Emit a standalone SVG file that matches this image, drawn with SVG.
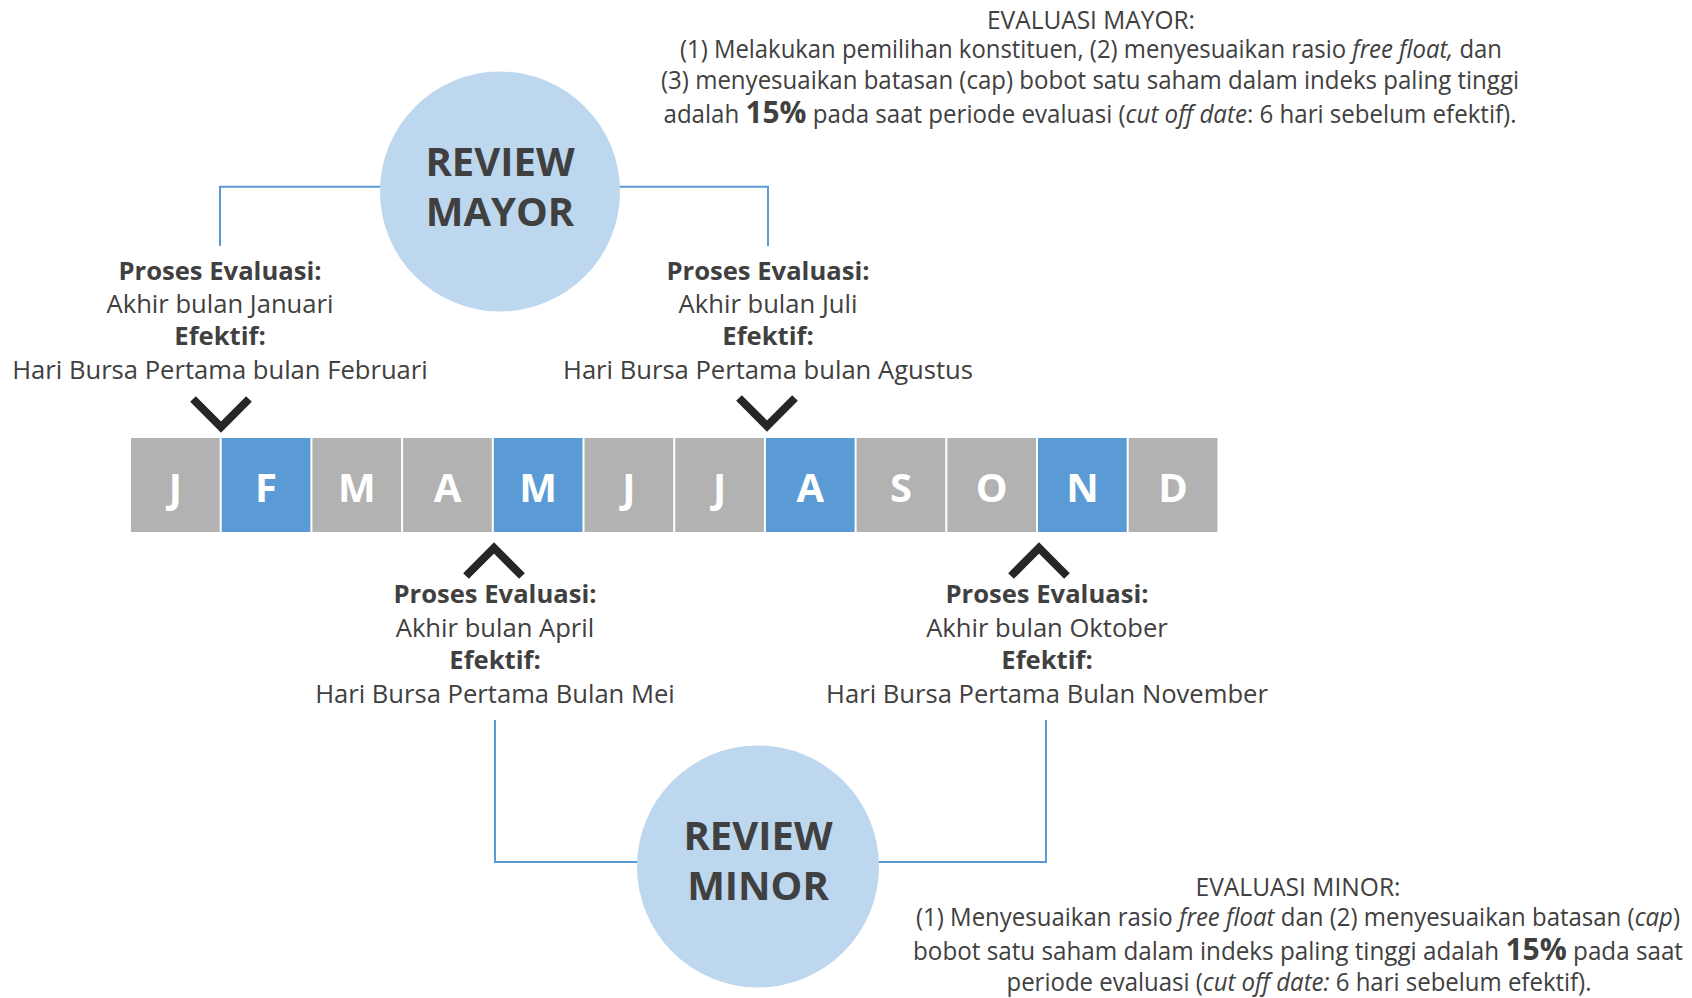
<svg xmlns="http://www.w3.org/2000/svg" width="1692" height="998" viewBox="0 0 1692 998">
<style>
.bg{fill:#ffffff}
.circ{fill:#BDD7EE}
.big{font-family:"Open Sans","Liberation Sans",sans-serif;font-weight:bold;font-size:40px;fill:#404040;text-anchor:middle}
.lbl{font-family:"Open Sans","Liberation Sans",sans-serif;font-size:25.6px;fill:#404040;text-anchor:middle}
.lblb{font-family:"Open Sans","Liberation Sans",sans-serif;font-size:25.6px;font-weight:bold;fill:#404040;text-anchor:middle}
.note{font-family:"Open Sans","Liberation Sans",sans-serif;font-size:25px;fill:#404040;text-anchor:middle}
.it{font-style:italic}
.pct{font-weight:bold;font-size:31px}
.gray{fill:#B2B2B2}
.blue{fill:#5B9BD5}
.mon{font-family:"Open Sans","Liberation Sans",sans-serif;font-weight:bold;font-size:40px;fill:#ffffff;text-anchor:middle}
.conn{fill:none;stroke:#5B9BD5;stroke-width:2}
.chev{fill:none;stroke:#262626;stroke-width:8;stroke-linejoin:miter;stroke-linecap:butt}
</style>
<rect class="bg" x="0" y="0" width="1692" height="998"/>

<g id="connectors">
  <polyline class="conn" points="382,186.7 220,186.7 220,246"/>
  <polyline class="conn" points="618,186.7 768,186.7 768,246"/>
  <polyline class="conn" points="495,720 495,862 640,862"/>
  <polyline class="conn" points="876,862 1046,862 1046,720"/>
</g>

<g id="review-mayor">
  <circle class="circ" cx="500" cy="191.5" r="120"/>
  <text class="big" x="500" y="176">REVIEW</text>
  <text class="big" x="500" y="226">MAYOR</text>
</g>

<g id="review-minor">
  <circle class="circ" cx="758" cy="866.5" r="121"/>
  <text class="big" x="758" y="850">REVIEW</text>
  <text class="big" x="758" y="900">MINOR</text>
</g>

<g id="evaluasi-mayor">
  <text class="note" x="1091" y="29" textLength="208" lengthAdjust="spacingAndGlyphs">EVALUASI MAYOR:</text>
  <text class="note" x="1091" y="58" textLength="822" lengthAdjust="spacingAndGlyphs">(1) Melakukan pemilihan konstituen, (2) menyesuaikan rasio <tspan class="it">free float,</tspan> dan</text>
  <text class="note" x="1090" y="88.5" textLength="858" lengthAdjust="spacingAndGlyphs">(3) menyesuaikan batasan (cap) bobot satu saham dalam indeks paling tinggi</text>
  <text class="note" x="1090" y="123" textLength="853" lengthAdjust="spacingAndGlyphs">adalah <tspan class="pct">15%</tspan> pada saat periode evaluasi (<tspan class="it">cut off date</tspan>: 6 hari sebelum efektif).</text>
</g>

<g id="evaluasi-minor">
  <text class="note" x="1298" y="896" textLength="205" lengthAdjust="spacingAndGlyphs">EVALUASI MINOR:</text>
  <text class="note" x="1298" y="926" textLength="764" lengthAdjust="spacingAndGlyphs">(1) Menyesuaikan rasio <tspan class="it">free float</tspan> dan (2) menyesuaikan batasan (<tspan class="it">cap</tspan>)</text>
  <text class="note" x="1298" y="960" textLength="770" lengthAdjust="spacingAndGlyphs">bobot satu saham dalam indeks paling tinggi adalah <tspan class="pct">15%</tspan> pada saat</text>
  <text class="note" x="1299" y="991" textLength="585" lengthAdjust="spacingAndGlyphs">periode evaluasi (<tspan class="it">cut off date:</tspan> 6 hari sebelum efektif).</text>
</g>

<g id="label-januari">
  <text class="lblb" x="220" y="279.5">Proses Evaluasi:</text>
  <text class="lbl" x="220" y="313">Akhir bulan Januari</text>
  <text class="lblb" x="220" y="345">Efektif:</text>
  <text class="lbl" x="220" y="378.8">Hari Bursa Pertama bulan Februari</text>
  <polyline class="chev" points="193,399 221,427 249,399"/>
</g>

<g id="label-juli">
  <text class="lblb" x="768" y="279.5">Proses Evaluasi:</text>
  <text class="lbl" x="768" y="313">Akhir bulan Juli</text>
  <text class="lblb" x="768" y="345">Efektif:</text>
  <text class="lbl" x="768" y="378.8">Hari Bursa Pertama bulan Agustus</text>
  <polyline class="chev" points="739,398 767,426 795,398"/>
</g>

<g id="label-april">
  <polyline class="chev" points="466,576 494,548 522,576"/>
  <text class="lblb" x="495" y="603">Proses Evaluasi:</text>
  <text class="lbl" x="495" y="636.7">Akhir bulan April</text>
  <text class="lblb" x="495" y="668.7">Efektif:</text>
  <text class="lbl" x="495" y="702.5">Hari Bursa Pertama Bulan Mei</text>
</g>

<g id="label-oktober">
  <polyline class="chev" points="1011,576 1039,548 1067,576"/>
  <text class="lblb" x="1047" y="603">Proses Evaluasi:</text>
  <text class="lbl" x="1047" y="636.7">Akhir bulan Oktober</text>
  <text class="lblb" x="1047" y="668.7">Efektif:</text>
  <text class="lbl" x="1047" y="702.5">Hari Bursa Pertama Bulan November</text>
</g>

<g id="months">
  <rect class="gray" x="131" y="438" width="88.7" height="94"/>
  <rect class="blue" x="221.7" y="438" width="88.7" height="94"/>
  <rect class="gray" x="312.4" y="438" width="88.7" height="94"/>
  <rect class="gray" x="403.1" y="438" width="88.7" height="94"/>
  <rect class="blue" x="493.8" y="438" width="88.7" height="94"/>
  <rect class="gray" x="584.5" y="438" width="88.7" height="94"/>
  <rect class="gray" x="675.2" y="438" width="88.7" height="94"/>
  <rect class="blue" x="765.9" y="438" width="88.7" height="94"/>
  <rect class="gray" x="856.6" y="438" width="88.7" height="94"/>
  <rect class="gray" x="947.3" y="438" width="88.7" height="94"/>
  <rect class="blue" x="1038" y="438" width="88.7" height="94"/>
  <rect class="gray" x="1128.7" y="438" width="88.7" height="94"/>
  <text class="mon" x="175.4" y="502">J</text>
  <text class="mon" x="266.1" y="502">F</text>
  <text class="mon" x="356.8" y="502">M</text>
  <text class="mon" x="447.5" y="502">A</text>
  <text class="mon" x="538.2" y="502">M</text>
  <text class="mon" x="628.9" y="502">J</text>
  <text class="mon" x="719.6" y="502">J</text>
  <text class="mon" x="810.3" y="502">A</text>
  <text class="mon" x="901" y="502">S</text>
  <text class="mon" x="991.7" y="502">O</text>
  <text class="mon" x="1082.4" y="502">N</text>
  <text class="mon" x="1173.1" y="502">D</text>
</g>
</svg>
